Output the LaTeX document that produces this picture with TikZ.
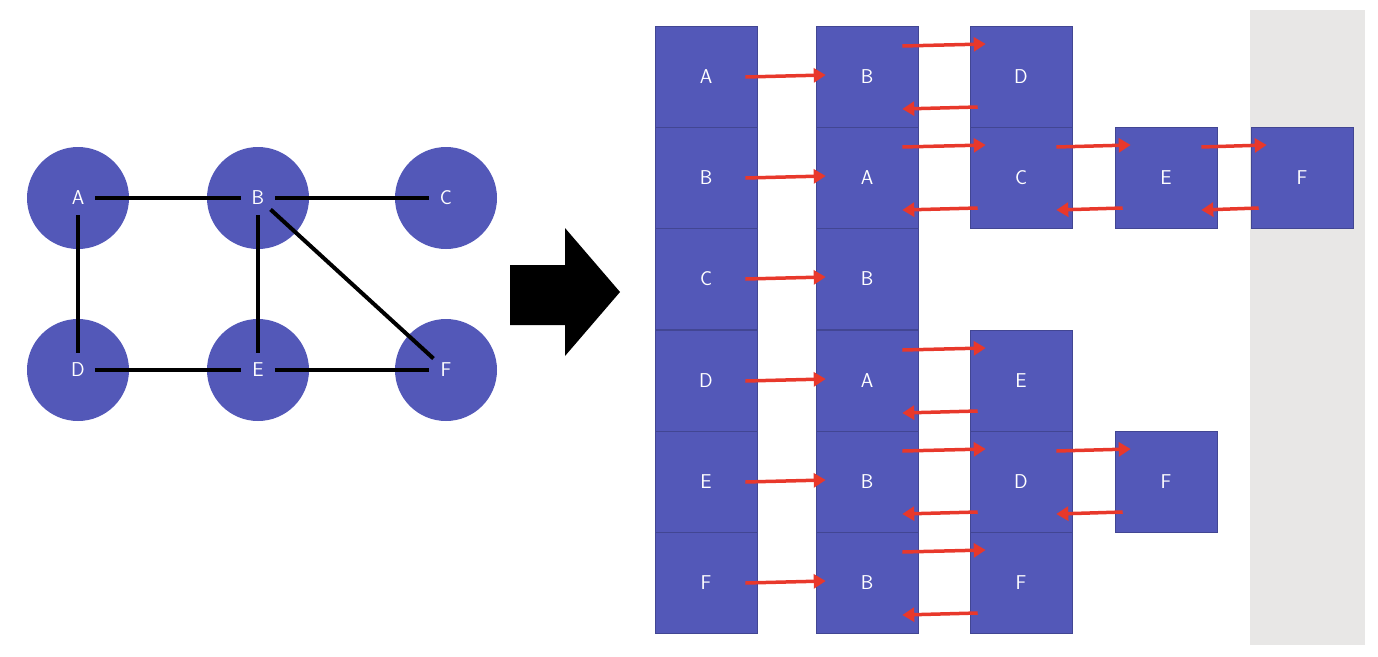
\documentclass[tikz,border=0pt]{standalone}
\usetikzlibrary{arrows.meta,positioning}
\definecolor{vblue}{HTML}{5358B8}
\definecolor{vred}{HTML}{E8382B}
\definecolor{vgray}{HTML}{E8E7E6}
\begin{document}
\begin{tikzpicture}[x=1pt,y=-1pt,font=\fontsize{20}{24}\selectfont\sffamily]
    \tikzstyle{vertex}=[circle,fill=vblue,text=white,minimum size=102pt,inner sep=0pt]
    \tikzstyle{cell}=[rectangle,fill=vblue,draw=vblue!80!black,line width=0.6pt,text=white,minimum width=102pt,minimum height=101pt,inner sep=0pt]
    \tikzstyle{edge}=[line width=4pt,shorten >=17pt,shorten <=17pt]
    \tikzstyle{ptr}=[vred,line width=3.5pt,-{Triangle[length=12pt,width=14pt]}]

    \useasboundingbox (0,0) rectangle (1378,656);
    \fill[vgray] (1250,10) rectangle (1365,645);

    % graph
    \node[vertex] (A) at (78,198)  {A};
    \node[vertex] (B) at (258,198) {B};
    \node[vertex] (C) at (446,198) {C};
    \node[vertex] (D) at (78,370)  {D};
    \node[vertex] (E) at (258,370) {E};
    \node[vertex] (F) at (446,370) {F};
    \draw[edge] (A.center) -- (B.center);
    \draw[edge] (B.center) -- (C.center);
    \draw[edge] (A.center) -- (D.center);
    \draw[edge] (B.center) -- (E.center);
    \draw[edge] (B.center) -- (F.center);
    \draw[edge] (D.center) -- (E.center);
    \draw[edge] (E.center) -- (F.center);

    % big arrow
    \fill (510,265) -- (565,265) -- (565,228) -- (620,292) -- (565,356) -- (565,325) -- (510,325) -- cycle;

    % adjacency list
    \node[cell] (a0) at (706,77)  {A};
    \node[cell] (b0) at (706,178) {B};
    \node[cell] (c0) at (706,279) {C};
    \node[cell] (d0) at (706,381) {D};
    \node[cell] (e0) at (706,482) {E};
    \node[cell] (f0) at (706,583) {F};

    \node[cell] (a1) at (867,77)  {B};
    \node[cell] (b1) at (867,178) {A};
    \node[cell] (c1) at (867,279) {B};
    \node[cell] (d1) at (867,381) {A};
    \node[cell] (e1) at (867,482) {B};
    \node[cell] (f1) at (867,583) {B};

    \node[cell] (a2) at (1021,77)  {D};
    \node[cell] (b2) at (1021,178) {C};
    \node[cell] (d2) at (1021,381) {E};
    \node[cell] (e2) at (1021,482) {D};
    \node[cell] (f2) at (1021,583) {F};

    \node[cell] (b3) at (1166,178) {E};
    \node[cell] (e3) at (1166,482) {F};

    \node[cell] (b4) at (1302,178) {F};

    \foreach \r in {a,b,c,d,e,f}
        \draw[ptr] ([xshift=-12pt]\r0.east) -- ([xshift=10pt,yshift=2pt]\r1.west);
    \foreach \u/\v in {a1/a2,b1/b2,b2/b3,b3/b4,d1/d2,e1/e2,e2/e3,f1/f2} {
        \draw[ptr] ([xshift=-16pt,yshift=31pt]\u.east) -- ([xshift=16pt,yshift=33pt]\v.west);
        \draw[ptr] ([xshift=8pt,yshift=-30pt]\v.west) -- ([xshift=-16pt,yshift=-32pt]\u.east);
    }
\end{tikzpicture}
\end{document}
